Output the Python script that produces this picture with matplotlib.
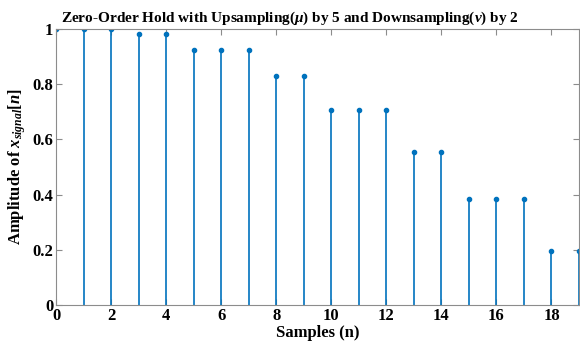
import matplotlib
matplotlib.use("Agg")
import matplotlib.pyplot as plt

# Held samples after upsampling by 5 and downsampling by 2
samples = list(range(20))
amplitude = [1.0, 1.0, 1.0, 0.981, 0.981, 0.924, 0.924, 0.924, 0.831, 0.831,
             0.707, 0.707, 0.707, 0.556, 0.556, 0.383, 0.383, 0.383, 0.195, 0.195]
x_ticks = [0, 2, 4, 6, 8, 10, 12, 14, 16, 18]
y_ticks = [0, 0.2, 0.4, 0.6, 0.8, 1]

plt.rcParams['font.family'] = ['Liberation Serif', 'DejaVu Serif']
plt.rcParams['font.weight'] = 'bold'
plt.rcParams['mathtext.fontset'] = 'custom'
plt.rcParams['mathtext.rm'] = 'Liberation Serif:bold'
plt.rcParams['mathtext.it'] = 'Liberation Serif:bold:italic'
plt.rcParams['mathtext.bf'] = 'Liberation Serif:bold'

color = '#0072BD'
fig = plt.figure(figsize=(5.8, 3.47), dpi=100)
ax = fig.add_axes([0.0966, 0.121, 0.9017, 0.795])

markerline, stemlines, baseline = ax.stem(samples, amplitude, basefmt=' ')
plt.setp(stemlines, color=color, linewidth=1.2)
plt.setp(markerline, color=color, marker='o', markersize=3.0,
         markerfacecolor=color, markeredgecolor=color)

ax.set_xlim(0, 19)
ax.set_ylim(0, 1)
ax.set_xticks(x_ticks)
ax.set_yticks(y_ticks)
ax.set_yticklabels(['0', '0.2', '0.4', '0.6', '0.8', '1'])

for s in ax.spines.values():
    s.set_color('#8c8c8c')
    s.set_linewidth(0.8)
ax.tick_params(direction='in', length=4, color='#8c8c8c', labelsize=12,
               top=True, right=True, pad=2)
for lbl in ax.get_xticklabels() + ax.get_yticklabels():
    lbl.set_fontweight('bold')

fig.text(0.5, 0.937,
         r'Zero-Order Hold with Upsampling($\mu$) by 5 and Downsampling($\nu$) by 2',
         fontsize=11, fontweight='bold', ha='center', va='baseline')
ax.set_xlabel('Samples (n)', fontsize=12, fontweight='bold', labelpad=1)
ax.set_ylabel(r'Amplitude of $x_{signal}[n]$', fontsize=12, fontweight='bold', labelpad=3)

fig.savefig('out.png', dpi=100)
